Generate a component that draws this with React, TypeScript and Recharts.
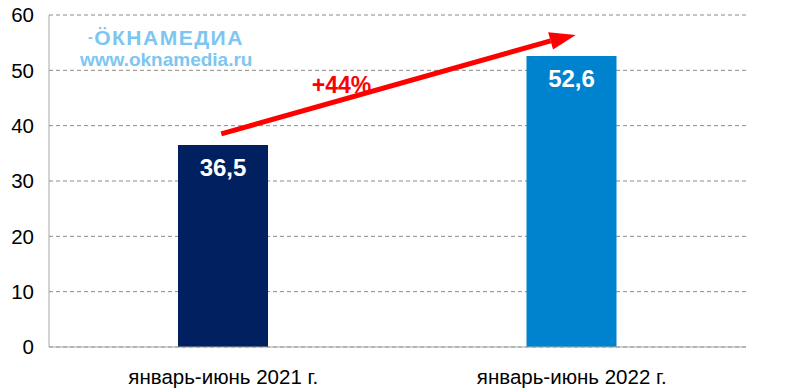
import { BarChart, Bar, XAxis, YAxis, CartesianGrid, Cell, LabelList, ReferenceLine } from 'recharts';

// periods and output values
const periods = ['январь-июнь 2021 г.', 'январь-июнь 2022 г.'];
const volumes = [36.5, 52.6];
const yTicks = [0, 10, 20, 30, 40, 50, 60];

// growth arrow annotation
const growthLabel = '+44%';
const growthFrom = 38.5;
const growthTo = 56.4;

const barColors = ['#002060', '#0083CF'];

const data = periods.map((p, i) => ({ period: p, value: volumes[i] }));

const FONT = '"Liberation Sans", Arial, sans-serif';

const GrowthArrow = (props: any) => {
  const { x1, y1, x2, y2 } = props;
  if ([x1, y1, x2, y2].some((v) => typeof v !== 'number')) return <g />;
  const ang = Math.atan2(y2 - y1, x2 - x1);
  const headLen = 22;
  const headW = 9;
  const bx = x2 - headLen * Math.cos(ang);
  const by = y2 - headLen * Math.sin(ang);
  const px = -Math.sin(ang) * headW;
  const py = Math.cos(ang) * headW;
  const mx = (x1 + x2) / 2;
  const my = (y1 + y2) / 2;
  return (
    <g>
      <line x1={x1 - 2} y1={y1} x2={bx} y2={by} stroke="#FF0000" strokeWidth={5} />
      <polygon
        points={`${x2 + 4},${y2} ${bx + px},${by + py} ${bx - px},${by - py}`}
        fill="#FF0000"
      />
      <text
        x={mx - 56}
        y={my + 9}
        textAnchor="middle"
        fill="#FF0000"
        fontFamily={FONT}
        fontWeight="bold"
        fontSize={23}
      >
        {growthLabel}
      </text>
    </g>
  );
};

export default function App() {
  return (
    <div style={{ position: 'absolute', left: 0, top: 0, width: 799, height: 391, background: '#fff' }}>
      <BarChart
        width={799}
        height={391}
        data={data}
        margin={{ top: 15, right: 53, left: 0, bottom: 0 }}
        barCategoryGap={0}
      >
        <CartesianGrid vertical={false} stroke="#8a8a8a" strokeDasharray="4 3" />
        <XAxis
          dataKey="period"
          height={44}
          stroke="#a6a6a6"
          tickLine={false}
          tickMargin={16}
          tick={{ fill: '#000', fontSize: 20.5, fontFamily: FONT }}
        />
        <YAxis
          width={49}
          domain={[0, 60]}
          ticks={yTicks}
          stroke="#a6a6a6"
          tickLine={false}
          tickMargin={9}
          tick={{ fill: '#000', fontSize: 20.5, fontFamily: FONT }}
        />
        <Bar dataKey="value" barSize={90} isAnimationActive={false}>
          {data.map((d, i) => (
            <Cell key={d.period} fill={barColors[i]} />
          ))}
          <LabelList
            dataKey="value"
            position="insideTop"
            offset={14}
            formatter={(v: any) => String(v).replace('.', ',')}
            style={{ fill: '#fff', fontSize: 24, fontWeight: 'bold', fontFamily: FONT }}
          />
        </Bar>
        <ReferenceLine
          segment={[
            { x: periods[0], y: growthFrom },
            { x: periods[1], y: growthTo },
          ]}
          ifOverflow="visible"
          shape={GrowthArrow}
        />
      </BarChart>
      <div
        style={{
          position: 'absolute',
          left: 80,
          top: 27,
          color: '#7dc6f2',
          fontFamily: FONT,
          fontWeight: 'bold',
          lineHeight: 1,
          whiteSpace: 'nowrap',
        }}
      >
        <div style={{ fontSize: 21, letterSpacing: 1.5, marginLeft: 8 }}>
          <span style={{ fontSize: 14, verticalAlign: 3 }}>-</span>ÖКНАМЕДИА
        </div>
        <div style={{ fontSize: 19, marginTop: 2 }}>www.oknamedia.ru</div>
      </div>
    </div>
  );
}
